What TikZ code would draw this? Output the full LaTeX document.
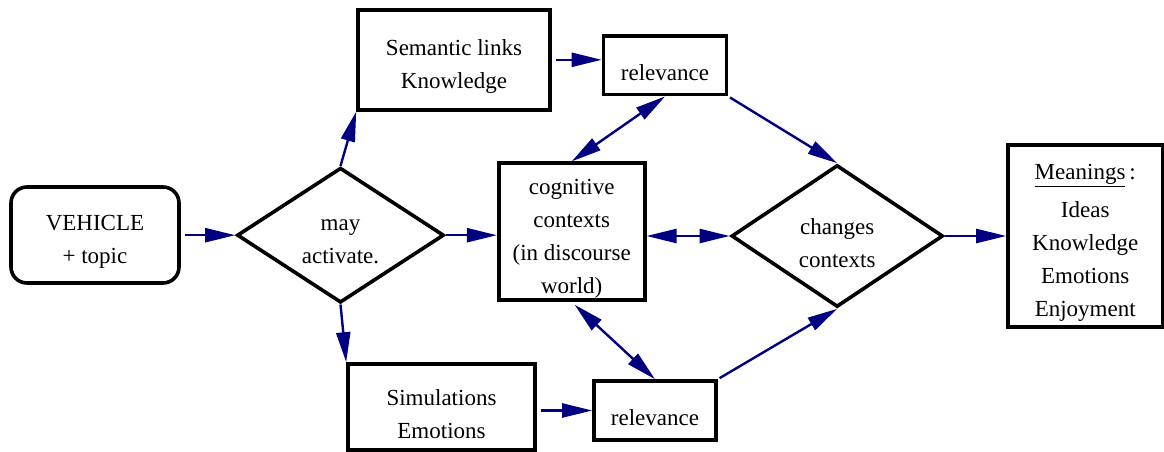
\documentclass[tikz,border=0pt]{standalone}
\usepackage{fontspec}
\setmainfont{Liberation Serif}
\usetikzlibrary{arrows.meta,shapes.geometric}
\definecolor{navyc}{RGB}{0,0,128}
\newcommand\txtfont{\fontsize{23}{33}\selectfont}
\begin{document}
\begin{tikzpicture}[x=1pt,y=-1pt,
  lab/.style={align=center,inner sep=0pt,font=\txtfont,yshift=-7pt},
  box/.style={draw=black,line width=3.6pt,inner sep=0pt},
  dia/.style={draw=black,diamond,line width=3.6pt,inner sep=0pt},
  tip/.tip={Triangle[length=30pt,width=14pt]},
  arr/.style={draw=navyc,line width=2.4pt,-tip},
  dbl/.style={draw=navyc,line width=2.4pt,tip-tip}]
\useasboundingbox (0,0) rectangle (1164,452);
\node[box,minimum width=168pt,minimum height=96pt,rounded corners=16pt,
  label={[lab]center:VEHICLE\\+ topic}] (veh) at (95,235) {};
\node[dia,minimum width=207pt,minimum height=135pt,
  label={[lab]center:may\\activate.}] (may) at (340.5,235.2) {};
\node[box,minimum width=192pt,minimum height=100pt,
  label={[lab]center:Semantic links\\Knowledge}] (sem) at (454,59.8) {};
\node[box,minimum width=123pt,minimum height=58.7pt,
  label={[lab]center:relevance}] (rel1) at (665,65.3) {};
\node[box,minimum width=146pt,minimum height=137pt,
  label={[lab]center:cognitive\\contexts\\(in discourse\\world)}] (cog) at (571.7,231.7) {};
\node[dia,minimum width=211.6pt,minimum height=142pt,
  label={[lab]center:changes\\contexts}] (chg) at (837.2,236) {};
\node[box,minimum width=154.4pt,minimum height=182pt,
  label={[lab]center:\underline{Meanings}\,:\\[5pt]Ideas\\Knowledge\\Emotions\\Enjoyment}] (mean) at (1085.2,236) {};
\node[box,minimum width=187pt,minimum height=86pt,
  label={[lab]center:Simulations\\Emotions}] (sim) at (441.5,407) {};
\node[box,minimum width=122pt,minimum height=59pt,
  label={[lab]center:relevance}] (rel2) at (655,410.5) {};
\draw[arr,shorten <=4pt] (veh.east |- may.west) -- (may.west);
\draw[arr] (may.east) -- (may.east -| cog.west);
\draw[arr] (may.north) -- (sem.south west);
\draw[arr] (may.south) -- (sim.north west);
\draw[arr,shorten <=4pt] (sem.east) -- (sem.east -| rel1.west);
\draw[arr,shorten <=4pt] (sim.east |- rel2.west) -- (rel2.west);
\draw[dbl] (cog.north) -- (rel1.south);
\draw[dbl,shorten <=4pt] (cog.south) -- (rel2.north);
\draw[dbl] (cog.east |- chg.west) -- (chg.west);
\draw[arr,shorten <=2pt] (rel1.south east) -- (chg.north);
\draw[arr,shorten <=2pt] (rel2.north east) -- (chg.south);
\draw[arr] (chg.east) -- (mean.west);
\end{tikzpicture}
\end{document}
